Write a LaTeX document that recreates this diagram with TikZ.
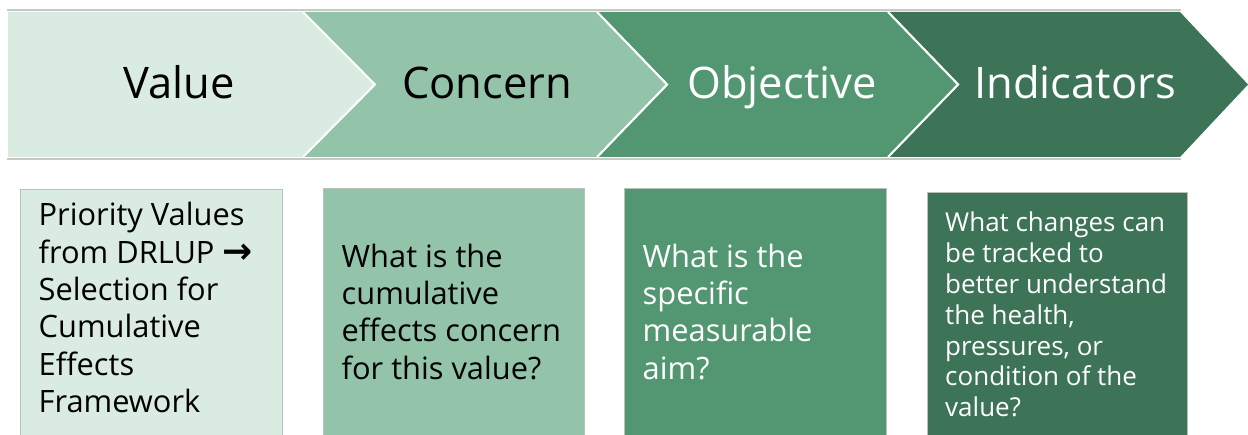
\documentclass[tikz,border=0pt]{standalone}
\usepackage{fontspec}
\setmainfont{Open Sans}
\newfontfamily\arrowfont{DejaVu Sans}
\definecolor{cA}{HTML}{DAEBE1}
\definecolor{cB}{HTML}{93C4AA}
\definecolor{cC}{HTML}{529771}
\definecolor{cD}{HTML}{3D7357}
\definecolor{rule}{HTML}{C8C8C8}
\definecolor{boxline}{HTML}{B8C2BC}
\tikzset{
  chev/.style={draw=white, line width=2pt, line join=miter},
  head/.style={anchor=base, inner sep=0pt, font=\fontsize{43.5}{50}\selectfont},
  panel/.style={draw=boxline, line width=0.8pt},
  bodytext/.style={anchor=base west, inner sep=0pt, align=left},
}
\newcommand{\bigtxt}{\fontsize{30.8}{37.3}\selectfont}
\newcommand{\smalltxt}{\fontsize{26}{30.85}\selectfont}
\begin{document}
\begin{tikzpicture}[x=1pt,y=-1pt]
\useasboundingbox (0,0) rectangle (1248,435);
% grey rules
\draw[rule, line width=1.2pt] (7,10) -- (1181,10);
\draw[rule, line width=1.2pt] (7,159) -- (1181,159);
% chevrons
\fill[cD] (888,12) -- (1180,12) -- (1248,84.5) -- (1180,157) -- (888,157) -- (958,84.5) -- cycle;
\draw[chev] (888,12) -- (958,84.5) -- (888,157);
\fill[cC] (597,12) -- (888,12) -- (958,84.5) -- (888,157) -- (597,157) -- (667,84.5) -- cycle;
\draw[chev] (888,12) -- (958,84.5) -- (888,157);
\draw[chev] (597,12) -- (667,84.5) -- (597,157);
\fill[cB] (303,12) -- (597,12) -- (667,84.5) -- (597,157) -- (303,157) -- (375,84.5) -- cycle;
\draw[chev] (597,12) -- (667,84.5) -- (597,157);
\fill[cA] (8,12) -- (303,12) -- (375,84.5) -- (303,157) -- (8,157) -- cycle;
\draw[chev] (303,12) -- (375,84.5) -- (303,157);
% headers
\node[head, text=black] (hv) at (179,99) {Value};
\node[head, text=black] (hc) at (487,99) {Concern};
\node[head, text=white] (ho) at (782,99) {Objective};
\node[head, text=white] (hi) at (1075,99) {Indicators};
% panels
\path[panel, fill=cA] (20.5,189) rectangle (282.5,436);
\path[panel, fill=cB] (323.3,188.3) rectangle (584,436);
\path[panel, fill=cC] (624.3,188) rectangle (886,436);
\path[panel, fill=cD] (927.3,192) rectangle (1187.3,436);
% panel texts
\node[bodytext, text=black] (tv) at (38.5,226) {\parbox[t]{240pt}{\bigtxt\raggedright Priority Values\\ from DRLUP {\arrowfont\fontsize{36}{37.3}\selectfont\bfseries →}\\ Selection for\\ Cumulative\\ Effects\\ Framework}};
\node[bodytext, text=black] (tc) at (341.5,267.3) {\parbox[t]{240pt}{\bigtxt\raggedright What is the\\ cumulative\\ effects concern\\ for this value?}};
\node[bodytext, text=white] (to) at (642.5,267.3) {\parbox[t]{240pt}{\bigtxt\raggedright What is the\\ specific\\ measurable\\ aim?}};
\node[bodytext, text=white] (ti) at (945,231.7) {\parbox[t]{240pt}{\smalltxt\raggedright What changes can\\ be tracked to\\ better understand\\ the health,\\ pressures, or\\ condition of the\\ value?}};
\end{tikzpicture}
\end{document}
